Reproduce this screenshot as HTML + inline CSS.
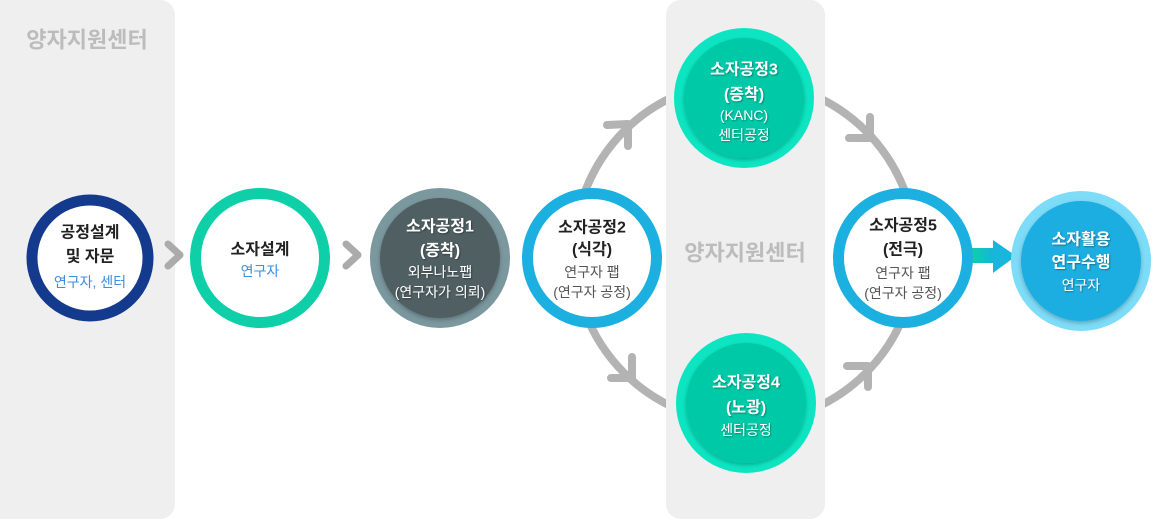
<!DOCTYPE html>
<html><head><meta charset="utf-8">
<style>
html,body{margin:0;padding:0;background:#fff;}
svg{display:block;}
text{font-family:"Liberation Sans","Noto Sans CJK KR",sans-serif;text-anchor:middle;dominant-baseline:central;}
.t{font-size:16px;font-weight:bold;fill:#222;}
.tw{font-size:16px;font-weight:bold;fill:#fff;}
.s{font-size:14px;fill:#555;}
.sb{font-size:14px;fill:#3b8ee0;}
.sw{font-size:14px;fill:#fff;}
.pl{font-size:22px;font-weight:bold;fill:#bcbcbc;}
</style></head>
<body>
<svg width="1153" height="520" viewBox="0 0 1153 520" xmlns="http://www.w3.org/2000/svg">
<defs>
<linearGradient id="ga" x1="0" x2="1" y1="0" y2="0">
<stop offset="0" stop-color="#0dcfa9"/><stop offset="1" stop-color="#18b3de"/>
</linearGradient>
<filter id="sh" x="-20%" y="-20%" width="140%" height="140%">
<feDropShadow dx="0" dy="2" stdDeviation="2" flood-color="#000" flood-opacity="0.25"/>
</filter>
<filter id="ts" x="-10%" y="-30%" width="120%" height="160%">
<feDropShadow dx="1" dy="1" stdDeviation="0.8" flood-color="#000" flood-opacity="0.35"/>
</filter>
</defs>

<!-- arcs -->
<g fill="none" stroke="#b3b3b3" stroke-width="8" stroke-linecap="round" stroke-linejoin="round">
<circle cx="745" cy="252" r="171"/>
<polyline points="607,125 628,124 628,146"/>
<polyline points="870,117 870,138 849,138"/>
<polyline points="632,357 632,378 611,378"/>
<polyline points="847,366 868,366 868,387"/>
</g>

<!-- panels -->
<rect x="-20" y="0" width="195" height="519" rx="15" fill="#efefef"/>
<rect x="666" y="0" width="159" height="519" rx="15" fill="#efefef"/>
<text class="pl" x="87" y="40">양자지원센터</text>
<text class="pl" x="745" y="253">양자지원센터</text>

<!-- chevrons -->
<g fill="none" stroke="#ababab" stroke-width="7" stroke-linecap="round" stroke-linejoin="round">
<polyline points="168,244 180,255 168,266"/>
<polyline points="346,244 358,255 346,266"/>
</g>

<!-- green arrow -->
<rect x="972" y="248" width="22" height="15" fill="url(#ga)"/>
<polygon points="993,240 1016,256 993,273" fill="#17b6da"/>

<!-- circle 1 -->
<circle cx="90" cy="258" r="58" fill="#fff" stroke="#143a8d" stroke-width="11"/>
<text class="t" x="90" y="233">공정설계</text>
<text class="t" x="90" y="257">및 자문</text>
<text class="sb" x="90" y="282">연구자, 센터</text>

<!-- circle 2 -->
<circle cx="260" cy="258" r="64.5" fill="#fff" stroke="#0fcfa9" stroke-width="11"/>
<text class="t" x="260" y="250">소자설계</text>
<text class="sb" x="260" y="271">연구자</text>

<!-- circle 3 dark -->
<circle cx="440" cy="258" r="70" fill="#7b989f"/>
<circle cx="440" cy="258" r="60" fill="#4f5e62" filter="url(#sh)"/>
<g filter="url(#ts)">
<text class="tw" x="440" y="227">소자공정1</text>
<text class="tw" x="440" y="251">(증착)</text>
<text class="sw" x="440" y="272">외부나노팹</text>
<text class="sw" x="440" y="292">(연구자가 의뢰)</text>
</g>

<!-- circle 4 blue -->
<circle cx="592" cy="258" r="64.5" fill="#fff" stroke="#1cb0e1" stroke-width="11"/>
<text class="t" x="592" y="228">소자공정2</text>
<text class="t" x="592" y="250">(식각)</text>
<text class="s" x="592" y="272">연구자 팹</text>
<text class="s" x="592" y="292">(연구자 공정)</text>

<!-- circle top -->
<circle cx="744" cy="98" r="70" fill="#0de5c2"/>
<circle cx="744" cy="98" r="60" fill="#00c9a8" filter="url(#sh)"/>
<g filter="url(#ts)">
<text class="tw" x="744" y="70">소자공정3</text>
<text class="tw" x="744" y="95">(증착)</text>
<text class="sw" x="744" y="115">(KANC)</text>
<text class="sw" x="744" y="135">센터공정</text>
</g>

<!-- circle bottom -->
<circle cx="746" cy="403" r="70" fill="#0de5c2"/>
<circle cx="746" cy="403" r="60" fill="#00c9a8" filter="url(#sh)"/>
<g filter="url(#ts)">
<text class="tw" x="746" y="383">소자공정4</text>
<text class="tw" x="746" y="408">(노광)</text>
<text class="sw" x="746" y="430">센터공정</text>
</g>

<!-- circle 5 -->
<circle cx="903" cy="258" r="64.5" fill="#fff" stroke="#1cb0e1" stroke-width="11"/>
<text class="t" x="903" y="226">소자공정5</text>
<text class="t" x="903" y="250">(전극)</text>
<text class="s" x="903" y="273">연구자 팹</text>
<text class="s" x="903" y="293">(연구자 공정)</text>

<!-- circle final -->
<circle cx="1081" cy="261" r="70" fill="#7ddcf8"/>
<circle cx="1081" cy="261" r="60" fill="#1aaee0" filter="url(#sh)"/>
<g filter="url(#ts)">
<text class="tw" x="1081" y="240">소자활용</text>
<text class="tw" x="1081" y="263">연구수행</text>
<text class="sw" x="1081" y="285">연구자</text>
</g>
</svg>
</body></html>
